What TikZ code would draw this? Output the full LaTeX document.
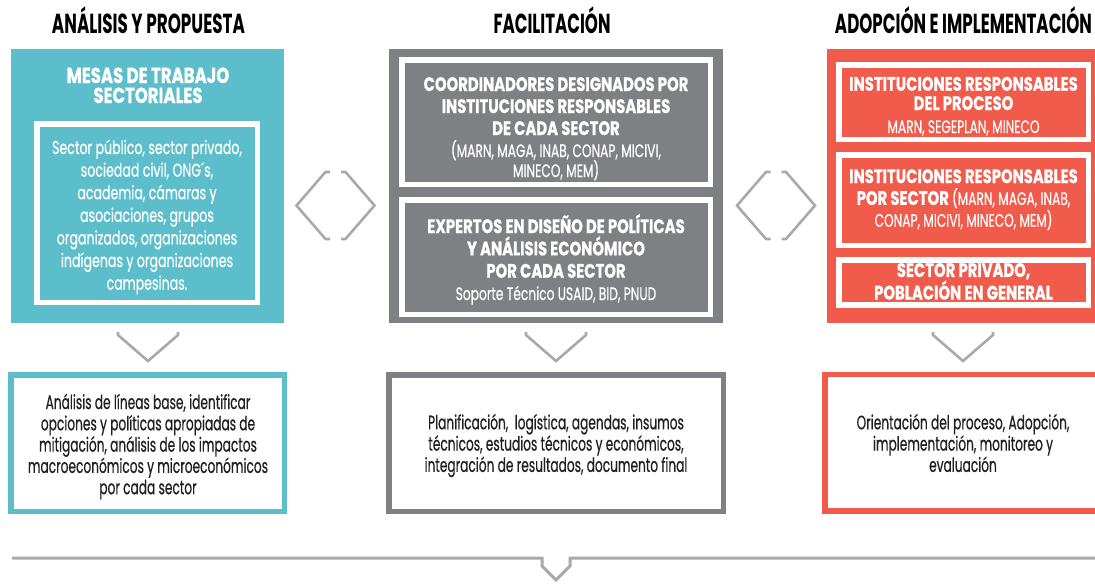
\documentclass[tikz,border=0pt]{standalone}
\usepackage{fontspec}
\usepackage{graphicx}
\usetikzlibrary{calc}
\setmainfont{Poppins}[FakeStretch=0.68]
\newfontfamily\hdf{Poppins}[FakeStretch=0.55]
\newfontfamily\titf{Poppins}[FakeStretch=0.76,FakeBold=0.8]
\newfontfamily\bodyf{Poppins}[FakeStretch=0.68,FakeBold=0.6]
\newfontfamily\botf{Poppins}[FakeStretch=0.625,FakeBold=0.5]
\newcommand\tB[1]{{\titf\bfseries\fontsize{19.5}{22}\selectfont #1}}
\definecolor{cteal}{HTML}{5CBECB}
\definecolor{cgray}{HTML}{7F8083}
\definecolor{cred}{HTML}{F15B4B}
\definecolor{cchev}{HTML}{A8A9AB}
\definecolor{ctext}{HTML}{231F20}
\tikzset{
  panel/.style={fill=#1, draw=none, inner sep=0pt, minimum width=273pt, minimum height=274pt},
  inbox/.style={draw=white, line width=5.5pt, inner sep=0pt, minimum width=249.5pt},
  botbox/.style={draw=#1, line width=5.5pt, fill=white, inner sep=0pt, minimum height=136.5pt},
  intext/.style={text=white, align=center, inner sep=0pt, anchor=base},
  bottext/.style={text=ctext, align=center, inner sep=0pt, anchor=base,
    font=\botf\fontsize{19.5}{21.3}\selectfont},
  hdr/.style={text=black, inner sep=0pt, anchor=base, font=\fontsize{27.5}{30}\selectfont\hdf\bfseries},
  chev/.style={draw=cchev, line width=2.6pt, line join=miter},
}
\begin{document}
\begin{tikzpicture}[x=1pt,y=-1pt]
\useasboundingbox (0,0) rectangle (1095,584);
\clip (0,0) rectangle (1095,584);

% headers
\node[hdr] (h1) at (148.5,33) {\resizebox{193pt}{\height}{ANÁLISIS Y PROPUESTA}};
\node[hdr] (h2) at (552,33) {\resizebox{117pt}{\height}{FACILITACIÓN}};
\node[hdr] (h3) at (963.5,33) {\resizebox{257pt}{\height}{ADOPCIÓN E IMPLEMENTACIÓN}};

% left panel (text nodes anchored at the baseline of their last line)
\node[panel=cteal] (L) at (147.5,186) {};
\node[intext, font=\titf\bfseries\fontsize{21.7}{20}\selectfont] (Lt) at (148,103) {MESAS DE TRABAJO\\SECTORIALES};
\node[inbox, minimum width=220.5pt, minimum height=178.5pt] (Li) at (147,213) {};
\node[intext, font=\bodyf\fontsize{18.5}{22.6}\selectfont] (Lit) at (147,289.6)
  {Sector público, sector privado,\\sociedad civil, ONG´s,\\academia, cámaras y\\asociaciones, grupos\\organizados, organizaciones\\indígenas y organizaciones\\campesinas.};

% middle panel
\node[panel=cgray, minimum width=334pt] (M) at (556,186) {};
\node[inbox, minimum width=308.5pt, minimum height=124.5pt] (M1) at (556,122) {};
\node[intext, font=\bodyf\fontsize{18}{22}\selectfont] (M1t) at (556,177)
  {\tB{COORDINADORES DESIGNADOS POR}\\\tB{INSTITUCIONES RESPONSABLES}\\\tB{DE CADA SECTOR}\\
   (MARN, MAGA, INAB, CONAP, MICIVI,\\[-2pt]MINECO, MEM)};
\node[inbox, minimum width=308.5pt, minimum height=114.5pt] (M2) at (556,257) {};
\node[intext, font=\bodyf\fontsize{18}{22.3}\selectfont] (M2t) at (556,300)
  {\tB{EXPERTOS EN DISEÑO DE POLÍTICAS}\\\tB{Y ANÁLISIS ECONÓMICO}\\\tB{POR CADA SECTOR}\\
   Soporte Técnico USAID, BID, PNUD};

% right panel
\node[panel=cred, minimum width=268pt] (R) at (961,186) {};
\node[inbox, minimum height=74.5pt] (R1) at (963.5,102) {};
\node[intext, font=\bodyf\fontsize{18}{19.3}\selectfont] (R1t) at (963.5,133)
  {\tB{INSTITUCIONES RESPONSABLES}\\\tB{DEL PROCESO}\\[3.7pt]MARN, SEGEPLAN, MINECO};
\node[inbox, minimum height=90.5pt] (R2) at (963.5,200) {};
\node[intext, font=\bodyf\fontsize{18}{21.8}\selectfont] (R2t) at (963.5,226.7)
  {\tB{INSTITUCIONES RESPONSABLES}\\\tB{POR SECTOR} (MARN, MAGA, INAB,\\CONAP, MICIVI, MINECO, MEM)};
\node[inbox, minimum height=45pt] (R3) at (963.5,282.5) {};
\node[intext, font=\bodyf\fontsize{18}{21}\selectfont] (R3t) at (963.5,299.5)
  {\tB{SECTOR PRIVADO,}\\\tB{POBLACIÓN EN GENERAL}};

% side chevrons
\coordinate (c1) at (335.5,205.5);
\coordinate (c2) at (776,205.5);
\foreach \c in {c1,c2}{
  \draw[chev] ($(\c)+(-5.5,-33.5)$) -- ($(\c)+(-10,-33.5)$) -- ($(\c)+(-39,0)$) -- ($(\c)+(-10,33.5)$) -- ($(\c)+(-5.5,33.5)$);
  \draw[chev] ($(\c)+(5.5,-33.5)$) -- ($(\c)+(10,-33.5)$) -- ($(\c)+(39,0)$) -- ($(\c)+(10,33.5)$) -- ($(\c)+(5.5,33.5)$);
}

% bottom boxes
\node[botbox=cteal, minimum width=273.5pt] (B1) at (147.5,443) {};
\node[bottext] (B1t) at (148,494.2)
  {Análisis de líneas base, identificar\\opciones y políticas apropiadas de\\mitigación, análisis de los impactos\\macroeconómicos y microeconómicos\\por cada sector};
\node[botbox=cgray, minimum width=334.5pt] (B2) at (556,443) {};
\node[bottext] (B2t) at (556,471.9)
  {Planificación,~ logística, agendas, insumos\\técnicos, estudios técnicos y económicos,\\integración de resultados, documento final};
\node[botbox=cred, minimum width=280pt] (B3) at (964.75,442.5) {};
\node[bottext] (B3t) at (963,471.9)
  {Orientación del proceso, Adopción,\\implementación, monitoreo y\\evaluación};

% down chevrons between panels and bottom boxes
\foreach \x in {148,556,963}{
  \draw[chev] (\x-30,332) -- (\x-30,335) -- (\x,361) -- (\x+30,335) -- (\x+30,332);
}

% bottom bracket line
\coordinate (bl) at (12,558);
\coordinate (br) at (1095,558);
\draw[chev, line width=3pt] (bl) -- (542,558) -- (542,566) -- (556,580) -- (570,566) -- (570,558) -- (br);
\end{tikzpicture}
\end{document}
